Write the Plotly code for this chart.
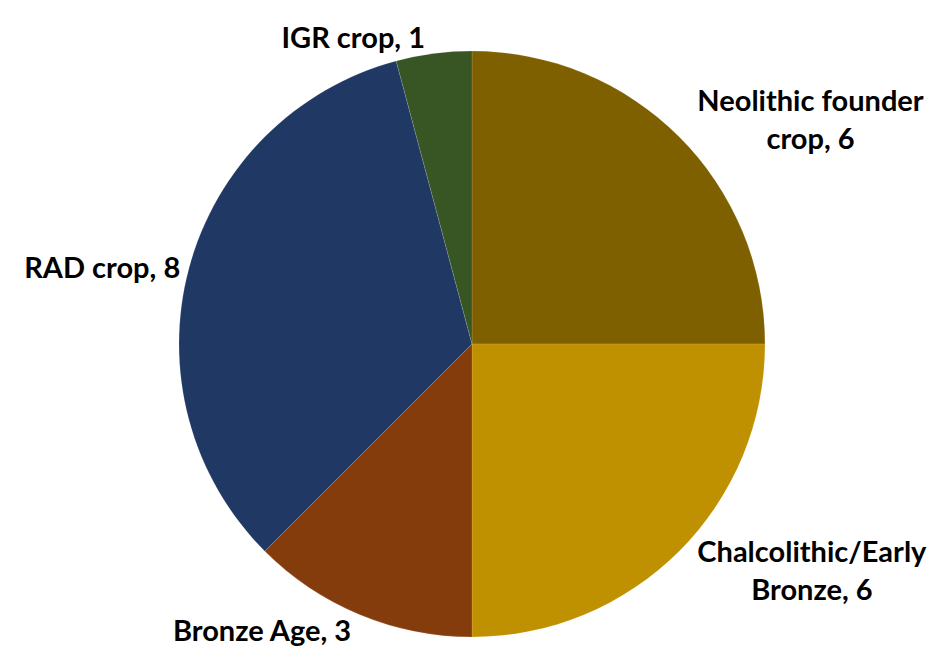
import plotly.graph_objects as go

labels = ["Neolithic founder<br>crop", "Chalcolithic/Early<br>Bronze", "Bronze Age", "RAD crop", "IGR crop"]
values = [6, 6, 3, 8, 1]
colors = ["#7F6000", "#BF9000", "#843C0C", "#1F3864", "#375623"]

fig = go.Figure(go.Pie(
    labels=labels,
    values=values,
    sort=False,
    direction="clockwise",
    rotation=0,
    marker=dict(colors=colors, line=dict(width=0.5, color="rgba(255,255,255,0.25)")),
    texttemplate="<b>%{label}, %{value}</b>",
    textposition="outside",
    textfont=dict(family="Lato", size=29, color="#000000"),
    showlegend=False,
    hoverinfo="label+value",
))

fig.update_layout(
    width=936, height=669,
    margin=dict(l=171, r=179, t=43, b=40),
    paper_bgcolor="white",
    plot_bgcolor="white",
)

fig.write_html("out.html")
